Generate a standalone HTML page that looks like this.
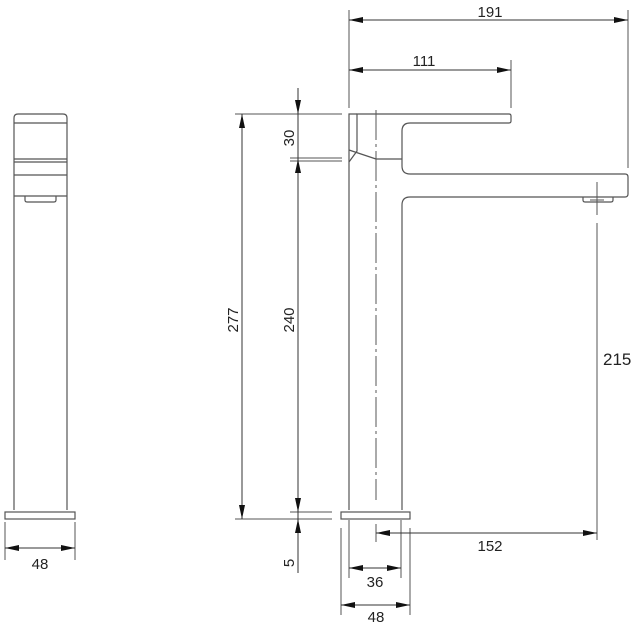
<!DOCTYPE html>
<html><head><meta charset="utf-8"><style>
html,body{margin:0;padding:0;background:#fff;}
svg{display:block;}
text{font-family:"Liberation Sans",sans-serif;fill:#222;}
</style></head><body>
<svg width="643" height="630" viewBox="0 0 643 630" xmlns="http://www.w3.org/2000/svg">
<defs>
<marker id="a" viewBox="0 0 14 6" refX="14" refY="3" markerWidth="14" markerHeight="6" orient="auto-start-reverse" markerUnits="userSpaceOnUse"><path d="M0,0 L14,3 L0,6 Z" fill="#111"/></marker>
</defs>
<g stroke="#555" stroke-width="1.2" fill="none">
<!-- left side view -->
<path d="M14,510 V118 Q14,114 18,114 H63 Q67,114 67,118 V510"/>
<line x1="14" y1="123" x2="67" y2="123"/>
<line x1="14" y1="159" x2="67" y2="159"/>
<line x1="14" y1="162" x2="67" y2="162"/>
<line x1="14" y1="175" x2="67" y2="175"/>
<line x1="14" y1="196" x2="67" y2="196"/>
<path d="M25,196 V200 Q25,202 27,202 H54 Q56,202 56,200 V196"/>
<rect x="5" y="512" width="70" height="7"/>
<!-- front view body -->
<path d="M349,510 V162 L357,151 V114 H509 Q511,114 511,116 V121 Q511,123 509,123 H410 Q402,123 402,131 V166 Q402,174 410,174 H625 Q628,174 628,177 V194 Q628,197 625,197 H410 Q402,197 402,205 V510"/>
<path d="M349,162 L349,114 H357"/>
<line x1="349" y1="150" x2="376" y2="159"/>
<line x1="376" y1="159" x2="402" y2="159"/>
<path d="M583,197 V200 Q583,202 585,202 H611 Q613,202 613,200 V197"/>
<rect x="341" y="512" width="69" height="7"/>
</g>
<g stroke="#555" stroke-width="1" fill="none">
<line x1="376" y1="110" x2="376" y2="500" stroke-dasharray="30,4,3,4"/>
<line x1="376" y1="524" x2="376" y2="542"/>
<line x1="597" y1="182" x2="597" y2="215"/>
<line x1="590" y1="200" x2="604" y2="200"/>
<line x1="597" y1="223" x2="597" y2="540"/>
<!-- extension lines -->
<line x1="349" y1="10" x2="349" y2="108"/>
<line x1="628" y1="10" x2="628" y2="168"/>
<line x1="511" y1="60" x2="511" y2="108"/>
<line x1="235" y1="114" x2="342" y2="114"/>
<line x1="290" y1="158" x2="342" y2="158"/>
<line x1="290" y1="161" x2="342" y2="161"/>
<line x1="290" y1="512" x2="332" y2="512"/>
<line x1="235" y1="519" x2="332" y2="519"/>
<line x1="5" y1="522" x2="5" y2="560"/>
<line x1="75" y1="522" x2="75" y2="560"/>
<line x1="341" y1="528" x2="341" y2="615"/>
<line x1="410" y1="528" x2="410" y2="615"/>
<line x1="349" y1="520" x2="349" y2="578"/>
<line x1="401" y1="520" x2="401" y2="578"/>
</g>
<g stroke="#333" stroke-width="1" fill="none">
<line x1="349" y1="20" x2="628" y2="20" marker-start="url(#a)" marker-end="url(#a)"/>
<line x1="349" y1="70" x2="511" y2="70" marker-start="url(#a)" marker-end="url(#a)"/>
<line x1="242" y1="114" x2="242" y2="519" marker-start="url(#a)" marker-end="url(#a)"/>
<line x1="298" y1="88" x2="298" y2="114" marker-end="url(#a)"/>
<line x1="298" y1="114" x2="298" y2="159"/>
<line x1="298" y1="159" x2="298" y2="512" marker-start="url(#a)" marker-end="url(#a)"/>
<line x1="298" y1="512" x2="298" y2="519"/>
<line x1="298" y1="573" x2="298" y2="519" marker-end="url(#a)"/>
<line x1="376" y1="533" x2="597" y2="533" marker-start="url(#a)" marker-end="url(#a)"/>
<line x1="349" y1="568" x2="401" y2="568" marker-start="url(#a)" marker-end="url(#a)"/>
<line x1="341" y1="605" x2="410" y2="605" marker-start="url(#a)" marker-end="url(#a)"/>
<line x1="5" y1="548" x2="75" y2="548" marker-start="url(#a)" marker-end="url(#a)"/>
</g>
<g font-size="15">
<text x="490" y="17" text-anchor="middle">191</text>
<text x="424" y="66" text-anchor="middle">111</text>
<text x="490" y="551" text-anchor="middle">152</text>
<text x="375" y="587" text-anchor="middle">36</text>
<text x="376" y="622" text-anchor="middle">48</text>
<text x="40" y="569" text-anchor="middle">48</text>
<text transform="translate(238,320) rotate(-90)" text-anchor="middle">277</text>
<text transform="translate(294,320) rotate(-90)" text-anchor="middle">240</text>
<text transform="translate(294,138) rotate(-90)" text-anchor="middle">30</text>
<text transform="translate(294,563) rotate(-90)" text-anchor="middle">5</text>
</g>
<text x="603" y="365" font-size="17">215</text>
</svg>
</body></html>
